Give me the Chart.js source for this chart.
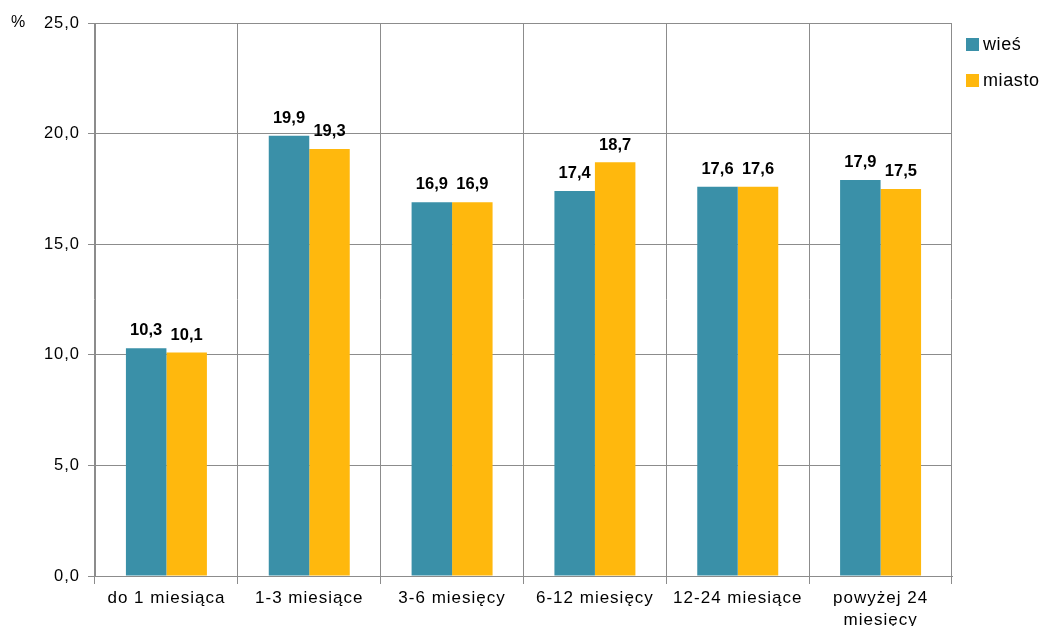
<!DOCTYPE html>
<html>
<head>
<meta charset="utf-8">
<script src="https://cdn.jsdelivr.net/npm/chart.js@4"></script>
<style>
html,body{margin:0;padding:0;background:#fff;}
#wrap{position:relative;width:1045px;height:626px;}
canvas{position:absolute;left:0;top:0;}
.pct{position:absolute;left:11px;top:13px;font:16px "Liberation Sans",Arial,sans-serif;color:#000;}
.leg{position:absolute;left:966px;font:18px "Liberation Sans",Arial,sans-serif;letter-spacing:0.6px;color:#000;}
.leg span{display:inline-block;width:13px;height:13px;margin-right:4px;vertical-align:-1px;}
</style>
</head>
<body>
<div id="wrap">
<canvas id="c" width="1045" height="626"></canvas>
<div class="pct">%</div>
<div class="leg" style="top:34px"><span style="background:#3A90A8"></span>wieś</div>
<div class="leg" style="top:70px"><span style="background:#FFB80D"></span>miasto</div>
</div>
<script>
const categories = ["do 1 miesiąca", "1-3 miesiące", "3-6 miesięcy", "6-12 miesięcy", "12-24 miesiące", ["powyżej 24", "miesięcy"]];
const wiesValues = [10.3, 19.9, 16.9, 17.4, 17.6, 17.9];
const miastoValues = [10.1, 19.3, 16.9, 18.7, 17.6, 17.5];
const seriesNames = ["wieś", "miasto"];
const fmt = v => v.toFixed(1).replace('.', ',');

const spacingPlugin = {
  id: 'spacing',
  beforeLayout(chart) { chart.ctx.letterSpacing = '1px'; },
  beforeDraw(chart) { chart.ctx.letterSpacing = '1px'; }
};

const labelPlugin = {
  id: 'vals',
  afterDatasetsDraw(chart) {
    const ctx = chart.ctx;
    ctx.save();
    ctx.letterSpacing = '0px';
    ctx.font = 'bold 16.5px "Liberation Sans", Arial, sans-serif';
    ctx.fillStyle = '#000';
    ctx.textAlign = 'center';
    ctx.textBaseline = 'bottom';
    chart.data.datasets.forEach((ds, i) => {
      chart.getDatasetMeta(i).data.forEach((bar, j) => {
        ctx.fillText(fmt(ds.data[j]), bar.x, bar.y - 9);
      });
    });
    ctx.restore();
  }
};

new Chart(document.getElementById('c'), {
  type: 'bar',
  data: {
    labels: categories,
    datasets: [
      {label: seriesNames[0], data: wiesValues, backgroundColor: '#3A90A8', categoryPercentage: 0.567, barPercentage: 1},
      {label: seriesNames[1], data: miastoValues, backgroundColor: '#FFB80D', categoryPercentage: 0.567, barPercentage: 1}
    ]
  },
  options: {
    responsive: false,
    animation: false,
    layout: {padding: {left: 0, right: 93, top: 23, bottom: 0}},
    plugins: {legend: {display: false}, tooltip: {enabled: false}},
    scales: {
      x: {
        offset: true,
        grid: {offset: true, color: '#8c8c8c', lineWidth: 1, drawTicks: true, tickLength: 8},
        border: {color: '#8c8c8c', width: 1},
        ticks: {color: '#000', font: {family: '"Liberation Sans", Arial, sans-serif', size: 17, lineHeight: 1.25}, padding: 4, maxRotation: 0, autoSkip: false},
        afterFit(s) { s.height = 50; }
      },
      y: {
        min: 0, max: 25,
        ticks: {stepSize: 5, color: '#000', font: {family: '"Liberation Sans", Arial, sans-serif', size: 16.5}, padding: 8, callback: v => fmt(v)},
        grid: {color: '#8c8c8c', lineWidth: 1, tickLength: 7},
        border: {color: '#8c8c8c', width: 1},
        afterFit(s) { s.width = 95; }
      }
    }
  },
  plugins: [spacingPlugin, labelPlugin]
});
</script>
</body>
</html>
